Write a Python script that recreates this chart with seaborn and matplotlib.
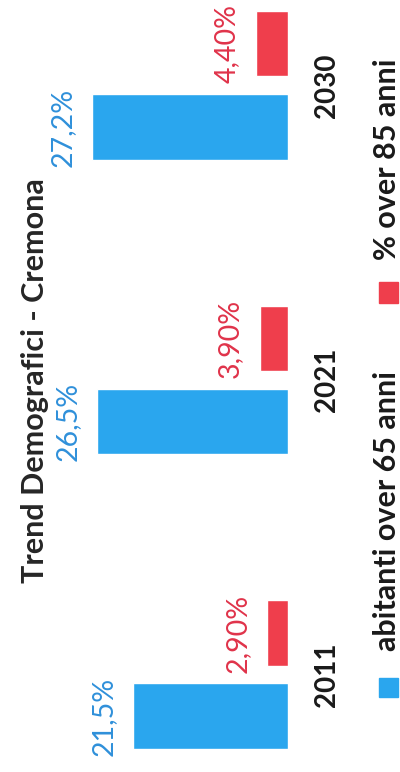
import matplotlib
matplotlib.use("Agg")
import matplotlib.pyplot as plt
from matplotlib.patches import Rectangle
import seaborn as sns
import pandas as pd

# dati
anni = ["2011", "2021", "2030"]
over65 = [21.5, 26.5, 27.2]
over85 = [2.90, 3.90, 4.40]
serie = ["abitanti over 65 anni", "% over 85 anni"]
titolo = "Trend Demografici - Cremona"

blu = "#2AA6EE"
rosso = "#EF3E4C"
blu_txt = "#2F90DA"
rosso_txt = "#E0334A"

df = pd.DataFrame({
    "anno": anni * 2,
    "valore": over65 + over85,
    "serie": [serie[0]] * 3 + [serie[1]] * 3,
})

sns.set_theme(style="white")
plt.rcParams["font.family"] = ["Lato", "DejaVu Sans"]

W, H = 400, 772
fig = plt.figure(figsize=(W / 100, H / 100), dpi=100)
ax = fig.add_axes([0, 0, 288 / W, 1])

# chart is rotated: horizontal bars growing to the left
sns.barplot(data=df, x="valore", y="anno", hue="serie", orient="h",
            order=anni[::-1], hue_order=serie[::-1],
            palette=[rosso, blu], saturation=1, width=0.564, gap=0.216,
            legend=False, ax=ax)
ax.set_xlim(40, 0)
ax.set_ylim(2.331, -0.290)
ax.set_xticks([])
ax.set_xlabel("")
ax.set_ylabel("")
sns.despine(ax=ax, left=True, bottom=True)

# value labels
for cont, col, fmt in zip(ax.containers, [rosso_txt, blu_txt], ["{:.2f}%", "{:.1f}%"]):
    for bar in cont:
        v = bar.get_width()
        ax.annotate(fmt.format(v).replace(".", ","),
                    xy=(v, bar.get_y() + bar.get_height() / 2),
                    xytext=(-12, 0), textcoords="offset points",
                    rotation=90, ha="right", va="center",
                    fontsize=20.5, color=col)

# year labels on the right
ax.yaxis.tick_right()
ax.tick_params(axis="y", length=0, pad=34)
for lab in ax.get_yticklabels():
    lab.set_rotation(90)
    lab.set_rotation_mode("anchor")
    lab.set_ha("center")
    lab.set_va("baseline")
    lab.set_fontsize(20)
    lab.set_fontweight("bold")
    lab.set_color("#1a1a1a")

# title
fig.text(44 / W, 1 - 381 / H, titolo, rotation=90, rotation_mode="anchor",
         ha="center", va="baseline", fontsize=22, fontweight="bold", color="#262626")

# legend (rotated)
fig.patches.append(Rectangle((379 / W, 1 - 697 / H), 19 / W, 19 / H,
                             transform=fig.transFigure, color=blu, figure=fig))
fig.text(396 / W, 1 - 511 / H, serie[0], rotation=90, rotation_mode="anchor",
         ha="center", va="baseline", fontsize=22, fontweight="bold", color="#1a1a1a")
fig.patches.append(Rectangle((379 / W, 1 - 303 / H), 19 / W, 21 / H,
                             transform=fig.transFigure, color=rosso, figure=fig))
fig.text(396 / W, 1 - 159 / H, serie[1], rotation=90, rotation_mode="anchor",
         ha="center", va="baseline", fontsize=22, fontweight="bold", color="#1a1a1a")

fig.savefig("out.png", dpi=100)
